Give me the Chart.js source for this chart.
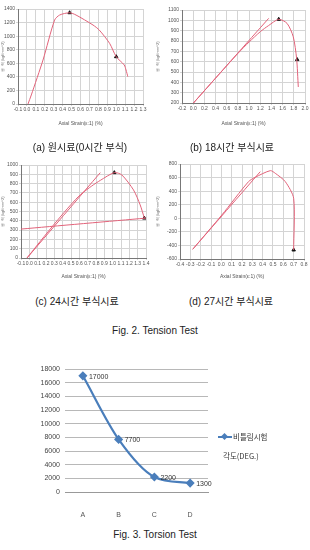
<!DOCTYPE html>
<html>
<head>
<meta charset="utf-8">
<script src="https://cdn.jsdelivr.net/npm/chart.js@4/dist/chart.umd.min.js"></script>
<style>
body { margin:0; background:#fff; width:310px; height:550px; position:relative; overflow:hidden;
       font-family:"Liberation Sans","Noto Sans CJK KR",sans-serif; }
canvas { position:absolute; }
.cap { position:absolute; font-size:10px; color:#222; white-space:nowrap; transform:translateX(-50%); }
.leg { position:absolute; font-size:7.5px; color:#333; white-space:nowrap; font-family:"Noto Sans CJK KR",sans-serif; }
.legline { position:absolute; left:218px; top:436px; width:14px; height:2px; background:#4a7ebb; }
.legdot { position:absolute; left:222px; top:434px; width:5px; height:5px; background:#4a7ebb; transform:rotate(45deg); }
</style>
</head>
<body>
<canvas id="ca" width="152" height="127" style="left:0;top:0"></canvas>
<canvas id="cb" width="155" height="127" style="left:155px;top:0"></canvas>
<canvas id="cc" width="152" height="130" style="left:0;top:150px"></canvas>
<canvas id="cd" width="155" height="130" style="left:155px;top:150px"></canvas>
<canvas id="torsion" width="245" height="170" style="left:0;top:355px"></canvas>

<div class="cap" style="left:80px;top:139px">(a) 원시료(0시간 부식)</div>
<div class="cap" style="left:232px;top:139px">(b) 18시간 부식시료</div>
<div class="cap" style="left:77px;top:293px">(c) 24시간 부식시료</div>
<div class="cap" style="left:231px;top:293px">(d) 27시간 부식시료</div>
<div class="cap" style="left:155px;top:325px">Fig. 2. Tension Test</div>
<div class="cap" style="left:155px;top:529px">Fig. 3. Torsion Test</div>

<div class="legline"></div><div class="legdot"></div>
<div class="leg" style="left:233px;top:431px">비틀림시험</div>
<div class="leg" style="left:223px;top:450px">각도(DEG.)</div>

<script>
// (a) 0 hours
const aStrain = [0.012, 0.049, 0.18, 0.31, 0.366, 0.478, 0.55, 0.74, 0.81, 0.926, 1.0, 1.09, 1.11, 1.13];
const aStress = [0, 133, 648, 1237, 1311, 1345, 1311, 1164, 1090, 894, 697, 575, 501, 403];
const aMarkX = [0.478, 1.0];
const aMarkY = [1345, 697];

// (b) 18 hours
const bStrain = [0.005, 0.4, 0.8, 1.0, 1.2, 1.35, 1.53, 1.68, 1.79, 1.85, 1.88];
const bStress = [200, 440, 680, 790, 890, 950, 1010, 970, 841, 630, 355];
const bFitX = [0.005, 1.35];
const bFitY = [200, 1019];
const bMarkX = [1.53, 1.86];
const bMarkY = [1010, 620];

// (c) 24 hours
const cStrain = [-0.028, 0.132, 0.332, 0.5, 0.612, 0.75, 0.852, 1.02, 1.11, 1.25, 1.33, 1.38];
const cStress = [0, 180, 400, 575, 680, 775, 835, 918, 893, 732, 571, 429];
const cFitX = [-0.028, 0.852];
const cFitY = [0, 918];
const cLowX = [-0.1, 1.4];
const cLowY = [311, 429];
const cMarkX = [1.02, 1.38];
const cMarkY = [918, 429];

// (d) 27 hours
const dStrain = [-0.277, 0.005, 0.263, 0.328, 0.474, 0.522, 0.619, 0.70, 0.70];
const dStress = [-457, 49, 540, 604, 702, 663, 540, 294, -467];
const dFitX = [-0.277, 0.377];
const dFitY = [-457, 687];
const dMarkX = [0.70];
const dMarkY = [-467];

// torsion test
const samples = ["A", "B", "C", "D"];
const torsionDeg = [17000, 7700, 2200, 1300];

const red = "#e2637a";
const pts = (xs, ys) => xs.map((x, i) => ({ x: x, y: ys[i] }));

function curve(xs, ys) {
  return { data: pts(xs, ys), showLine: true, borderColor: red, borderWidth: 1,
           pointRadius: 0, tension: 0.25 };
}
function marks(xs, ys) {
  return { data: pts(xs, ys), showLine: false, pointStyle: "triangle", pointRadius: 2,
           backgroundColor: "#111", borderColor: "#111" };
}

function tension(id, sets, xr, yr, box) {
  new Chart(document.getElementById(id), {
    type: "scatter",
    data: { datasets: sets },
    options: {
      responsive: false, animation: false,
      layout: { padding: { top: box.top, right: box.right, left: 0, bottom: 0 } },
      plugins: { legend: { display: false }, tooltip: { enabled: false } },
      scales: {
        x: {
          min: xr[0], max: xr[1],
          afterBuildTicks: s => { s.ticks = []; for (let v = xr[0]; v <= xr[1] + 1e-9; v += xr[2]) s.ticks.push({ value: +v.toFixed(2) }); },
          ticks: { font: { size: 5 }, color: "#555", padding: 1, maxRotation: 0, autoSkip: false,
                   callback: v => v.toFixed(1) },
          grid: { color: "#d4d4d4", tickLength: 2 },
          border: { color: "#777" },
          title: { display: true, text: "Axial Strain(ε:1) (%)", font: { size: 5 }, color: "#555", padding: { top: 2, bottom: 0 } },
          afterFit: s => { s.height = box.xh; }
        },
        y: {
          min: yr[0], max: yr[1],
          ticks: { stepSize: yr[2], font: { size: 5 }, color: "#555", padding: 1, callback: v => String(v) },
          grid: { color: "#d4d4d4", tickLength: 2 },
          border: { color: "#777" },
          title: { display: true, text: "응 력 (kgf/mm^2)", font: { size: 4 }, color: "#777", padding: 0 },
          afterFit: s => { s.width = box.yw; }
        }
      }
    }
  });
}

tension("ca", [curve(aStrain, aStress), marks(aMarkX, aMarkY)],
  [-0.1, 1.3, 0.1], [0, 1400, 200], { top: 9, right: 9, yw: 18, xh: 23 });
tension("cb", [curve(bStrain, bStress), curve(bFitX, bFitY), marks(bMarkX, bMarkY)],
  [-0.2, 2.0, 0.2], [200, 1100, 100], { top: 10, right: 3, yw: 27, xh: 24 });
tension("cc", [curve(cStrain, cStress), curve(cFitX, cFitY), curve(cLowX, cLowY), marks(cMarkX, cMarkY)],
  [-0.1, 1.4, 0.1], [0, 1000, 100], { top: 15, right: 6, yw: 21, xh: 22 });
tension("cd", [curve(dStrain, dStress), curve(dFitX, dFitY), marks(dMarkX, dMarkY)],
  [-0.4, 0.8, 0.1], [-600, 800, 200], { top: 14, right: 6, yw: 25, xh: 21 });

// value labels next to each torsion point
const valueLabels = {
  id: "valueLabels",
  afterDatasetsDraw(chart) {
    const ctx = chart.ctx;
    const meta = chart.getDatasetMeta(0);
    ctx.save();
    ctx.font = "7px 'Liberation Sans', sans-serif";
    ctx.fillStyle = "#333";
    ctx.textBaseline = "middle";
    meta.data.forEach((p, i) => ctx.fillText(String(torsionDeg[i]), p.x + 6, p.y + 1));
    ctx.restore();
  }
};

new Chart(document.getElementById("torsion"), {
  type: "line",
  data: {
    labels: samples,
    datasets: [{
      label: "비틀림시험 각도(DEG.)",
      data: torsionDeg,
      borderColor: "#4a7ebb",
      backgroundColor: "#4a7ebb",
      borderWidth: 2.2,
      pointStyle: "rectRot",
      pointRadius: 3,
      cubicInterpolationMode: "monotone"
    }]
  },
  options: {
    responsive: false, animation: false,
    layout: { padding: { top: 14, right: 37, left: 0, bottom: 0 } },
    plugins: { legend: { display: false }, tooltip: { enabled: false } },
    scales: {
      x: {
        offset: true,
        ticks: { font: { size: 7 }, color: "#555", padding: 11 },
        grid: { display: false, offset: true },
        border: { color: "#999" },
        afterFit: s => { s.height = 33; }
      },
      y: {
        min: 0, max: 18000,
        ticks: { stepSize: 2000, font: { size: 7 }, color: "#444", padding: 5, callback: v => String(v) },
        grid: { color: "#b8b8b8", drawTicks: false },
        border: { display: false },
        afterFit: s => { s.width = 65; }
      }
    }
  },
  plugins: [valueLabels]
});
</script>
</body>
</html>
